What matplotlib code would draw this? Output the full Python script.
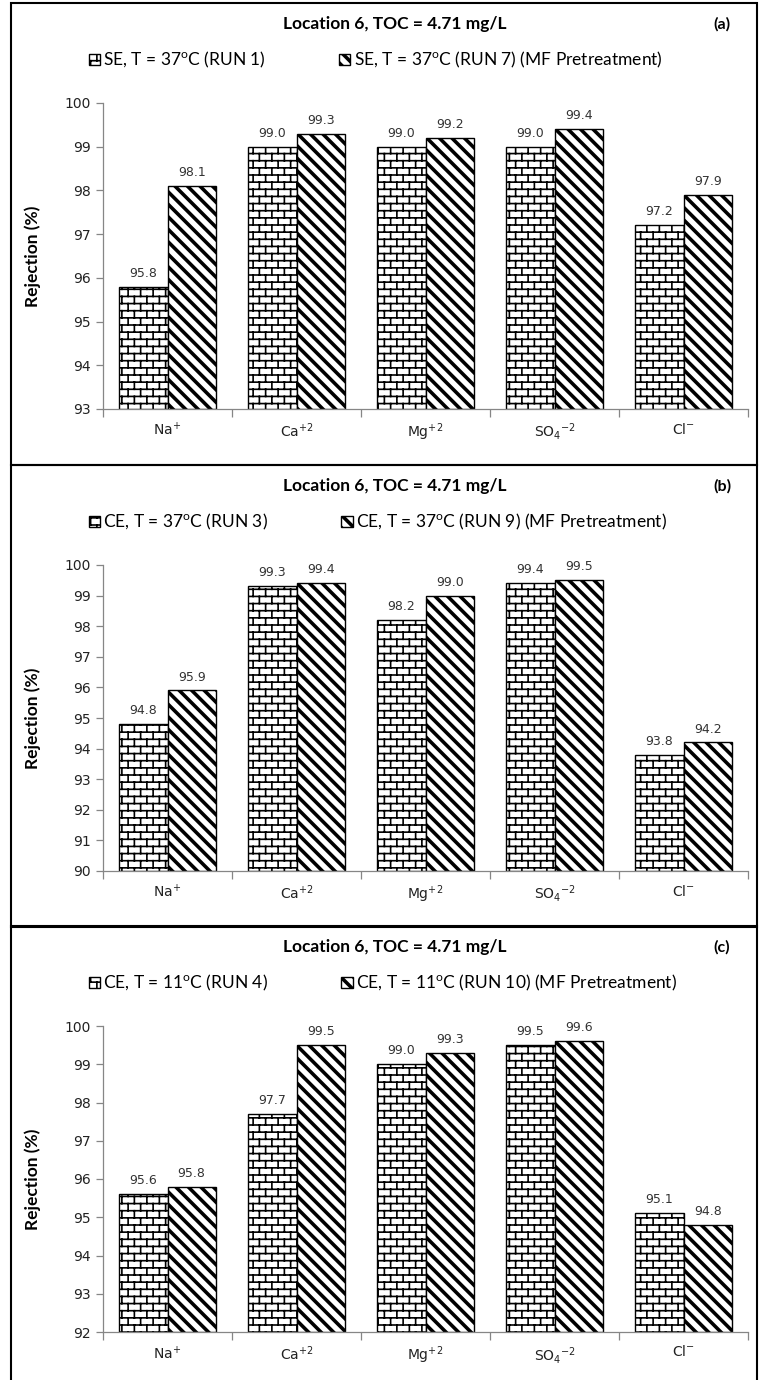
import warnings
import numpy as np
import matplotlib
matplotlib.use("Agg")
import matplotlib.pyplot as plt
import matplotlib.hatch as mhatch
from matplotlib.path import Path
from matplotlib.patches import Rectangle

warnings.filterwarnings("ignore")

# ---- data ----
ions = ["Na$^{+}$", "Ca$^{+2}$", "Mg$^{+2}$", "SO$_4$$^{-2}$", "Cl$^{-}$"]
title = "Location 6, TOC = 4.71 mg/L"
tags = ["(a)", "(b)", "(c)"]
names_run = ["SE, T = 37$^{o}$C (RUN 1)",
             "CE, T = 37$^{o}$C (RUN 3)",
             "CE, T = 11$^{o}$C (RUN 4)"]
names_mf = ["SE, T = 37$^{o}$C (RUN 7) (MF Pretreatment)",
            "CE, T = 37$^{o}$C (RUN 9) (MF Pretreatment)",
            "CE, T = 11$^{o}$C (RUN 10) (MF Pretreatment)"]
run_a = [95.8, 99.0, 99.0, 99.0, 97.2]
mf_a = [98.1, 99.3, 99.2, 99.4, 97.9]
run_b = [94.8, 99.3, 98.2, 99.4, 93.8]
mf_b = [95.9, 99.4, 99.0, 99.5, 94.2]
run_c = [95.6, 97.7, 99.0, 99.5, 95.1]
mf_c = [95.8, 99.5, 99.3, 99.6, 94.8]
y_min = [93, 90, 92]
y_max = 100


# ---- custom hatches: 'b' = bricks, 's' = thick diagonal stripes ----
class BrickHatch(mhatch.HatchPatternBase):
    def __init__(self, hatch, density):
        segs = []
        if "b" in hatch:
            rows, cols = 14, 8
            for i in range(rows):
                y0 = (i + 0.5) / rows
                segs.append(((0, y0), (1, y0)))
                y1 = (i + 1.5) / rows
                for j in range(cols):
                    x = (j + 0.25 + 0.5 * (i % 2)) / cols
                    if y1 > 1:
                        segs.append(((x, y0), (x, 1)))
                        segs.append(((x, 0), (x, y1 - 1)))
                    else:
                        segs.append(((x, y0), (x, y1)))
        self.segs = segs
        self.num_vertices = 2 * len(segs)

    def set_vertices_and_codes(self, vertices, codes):
        for k, (p0, p1) in enumerate(self.segs):
            vertices[2 * k] = p0
            vertices[2 * k + 1] = p1
        codes[0::2] = Path.MOVETO
        codes[1::2] = Path.LINETO


class StripeHatch(mhatch.HatchPatternBase):
    def __init__(self, hatch, density):
        self.n = 8 if "s" in hatch else 0
        self.t = 0.027
        self.num_vertices = 5 * (2 * self.n + 2) if self.n else 0

    def set_vertices_and_codes(self, vertices, codes):
        k = 0
        for i in range(-1, 2 * self.n + 1):
            c = i / self.n
            t = self.t
            vertices[k:k + 5] = [(-1, c + 1), (2, c - 2), (2, c - 2 + t),
                                 (-1, c + 1 + t), (-1, c + 1)]
            codes[k:k + 5] = [Path.MOVETO, Path.LINETO, Path.LINETO,
                              Path.LINETO, Path.CLOSEPOLY]
            k += 5


mhatch._hatch_types.append(BrickHatch)
mhatch._hatch_types.append(StripeHatch)

plt.rcParams["hatch.linewidth"] = 1.2
plt.rcParams["mathtext.default"] = "regular"

W, H = 760, 1380
fig = plt.figure(figsize=(W / 100, H / 100), dpi=100)
fig.patch.set_facecolor("white")

runs = [run_a, run_b, run_c]
mfs = [mf_a, mf_b, mf_c]
panel_top = [3, 465, 926]
x = np.arange(len(ions))
w = 0.375
gray = "#868686"

for p in range(3):
    top = panel_top[p]
    ax = fig.add_axes([103 / W, 1 - (top + 406) / H, 645 / W, 306 / H])
    lo = y_min[p]
    b1 = ax.bar(x - w / 2, np.array(runs[p]) - lo, w, bottom=lo,
                color="white", edgecolor="black", linewidth=1.0, hatch="b")
    b2 = ax.bar(x + w / 2, np.array(mfs[p]) - lo, w, bottom=lo,
                color="white", edgecolor="black", linewidth=1.0, hatch="s")
    ax.bar_label(b1, labels=[f"{v:.1f}" for v in runs[p]], padding=5,
                 fontsize=9, color="#333333")
    ax.bar_label(b2, labels=[f"{v:.1f}" for v in mfs[p]], padding=5,
                 fontsize=9, color="#333333")

    ax.set_xlim(-0.5, len(ions) - 0.5)
    ax.set_ylim(lo, y_max)
    ax.set_yticks(range(lo, y_max + 1))
    ax.set_xticks(x)
    ax.set_xticklabels(ions, fontsize=10, color="#222222")
    ax.set_xticks(np.arange(-0.5, len(ions), 1), minor=True)
    ax.tick_params(axis="x", which="major", length=0, pad=9)
    ax.tick_params(axis="x", which="minor", length=6, color=gray, width=0.9)
    ax.tick_params(axis="y", length=5, color=gray, width=0.9,
                   labelsize=10, labelcolor="#222222")
    for s in ["top", "right"]:
        ax.spines[s].set_visible(False)
    for s in ["left", "bottom"]:
        ax.spines[s].set_color(gray)
        ax.spines[s].set_linewidth(0.9)
    ax.set_ylabel("Rejection (%)", fontsize=12.5, fontweight="bold",
                  family="Lato")
    ax.yaxis.set_label_coords(-(103 - 41) / 645, 0.5)

    fig.text(395 / W, 1 - (top + 21) / H, title, ha="center", va="center",
             fontsize=12.5, fontweight="bold", family="Lato")
    fig.text(722 / W, 1 - (top + 21) / H, tags[p], ha="center", va="center",
             fontsize=11.5, fontweight="bold", family="Lato")
    fig.legend([b1, b2], [names_run[p], names_mf[p]], loc="center left",
               bbox_to_anchor=(80 / W, 1 - (top + 57) / H), ncol=2,
               frameon=False, handlelength=0.65, handleheight=0.65,
               handletextpad=0.2, columnspacing=4.2, borderpad=0,
               prop={"family": "Lato", "size": 12.5})

    fig.add_artist(Rectangle((11 / W, 1 - (top + 462) / H), 746 / W, 462 / H,
                             transform=fig.transFigure, fill=False,
                             edgecolor="black", linewidth=1.5))

fig.savefig("out.png", dpi=100)
